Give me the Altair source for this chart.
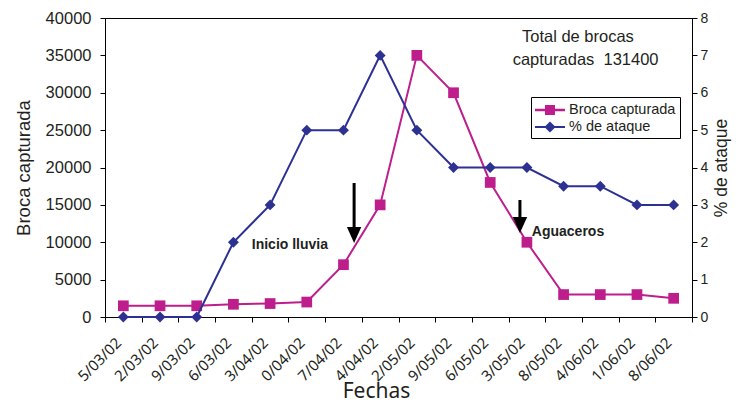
import altair as alt
import pandas as pd

# ---------------- data ----------------
fechas = ['5/03/02', '2/03/02', '9/03/02', '6/03/02', '3/04/02', '0/04/02', '7/04/02', '4/04/02',
          '2/05/02', '9/05/02', '6/05/02', '3/05/02', '8/05/02', '4/06/02', '1/06/02', '8/06/02']
broca = [1500, 1500, 1500, 1700, 1800, 2000, 7000, 15000, 35000, 30000, 18000, 10000, 3000, 3000, 3000, 2500]
ataque = [0, 0, 0, 2, 3, 5, 5, 7, 5, 4, 4, 4, 3.5, 3.5, 3, 3]
series = ['Broca capturada', '% de ataque']

total_lines = ['Total de brocas', 'capturadas\u00a0 131400']
total_x = [12.39, 12.6]
total_y = [36790, 33710]

notes = ['Inicio lluvia', 'Aguaceros']
notes_x = [4.54, 12.12]
notes_y = [9100, 10840]

arrow_x = [6.29, 10.81]
arrow_top = [17930, 15650]
arrow_head = [10970, 12310]

PINK = '#BD1E8C'
BLUE = '#2C3192'
TXT = '#231F20'

# ---------------- tables ----------------
idx = list(range(len(fechas)))
df = pd.DataFrame({'idx': idx, 'fecha': fechas, 'yl': broca, 'yr': ataque})
df_total = pd.DataFrame({'idx': total_x, 'yl': total_y, 'txt': total_lines})
df_notes = pd.DataFrame({'idx': notes_x, 'yl': notes_y, 'txt': notes})
df_arrows = pd.DataFrame({'idx': arrow_x, 'yl': arrow_top, 'yl2': arrow_head})
df_heads = pd.DataFrame({'idx': arrow_x, 'yl': arrow_head})
df_leg = pd.DataFrame({'serie': series})

tick_vals = [i * 0.5 - 0.5 for i in range(2 * len(fechas) + 1)]
label_arr = '[' + ','.join("'%s'" % f for f in fechas) + ']'
label_expr = "datum.value % 1 === 0 ? " + label_arr + "[datum.value] : ''"

X = alt.X('idx:Q',
          scale=alt.Scale(domain=[-0.5, len(fechas) - 0.5], nice=False, zero=False),
          axis=alt.Axis(values=tick_vals, labelExpr=label_expr, labelOverlap=False,
                        tickOpacity={'condition': {'test': 'datum.value % 1 === 0', 'value': 0}, 'value': 1},
                        labelAngle=-45, labelAlign='right', labelBaseline='middle',
                        labelFont='Noto Sans', labelFontSize=15, labelPadding=18, labelOffset=-5,
                        tickSize=5, grid=False,
                        title='Fechas', titleFont='Noto Sans', titleFontSize=21,
                        titleX=271, titleY=80, titleAlign='center', titleBaseline='alphabetic'))

YL = alt.Y('yl:Q', scale=alt.Scale(domain=[0, 40000], nice=False),
           axis=alt.Axis(values=list(range(0, 40001, 5000)), format='d', orient='left',
                         title='Broca capturada', titleFontSize=18.5, labelFontSize=16.5,
                         labelPadding=9, tickSize=5, grid=False, titlePadding=12))
YR = alt.Y('yr:Q', scale=alt.Scale(domain=[0, 8], nice=False),
           axis=alt.Axis(values=list(range(0, 9)), format='d', orient='right',
                         title='% de ataque', titleFontSize=17.5, titleAngle=270, titleBaseline='top',
                         labelFontSize=14, labelPadding=3, tickSize=5, grid=False, titlePadding=5))

base = alt.Chart(df)
pink_line = base.mark_line(color=PINK, strokeWidth=2).encode(x=X, y=YL)
pink_pts = base.mark_point(shape='square', filled=True, size=115, color=PINK, opacity=1).encode(x=X, y=YL)

arrows = alt.Chart(df_arrows).mark_rule(color='black', strokeWidth=3).encode(x=X, y=YL, y2='yl2:Q')
heads = alt.Chart(df_heads).mark_point(shape='M-0.9,-1L0.9,-1L0,1Z', filled=True, size=256,
                                       color='black', opacity=1).encode(x=X, y=YL)
note_txt = alt.Chart(df_notes).mark_text(fontSize=14, fontWeight='bold', color=TXT, align='center',
                                         baseline='alphabetic').encode(x=X, y=YL, text='txt:N')
total_txt = alt.Chart(df_total).mark_text(fontSize=16.5, color=TXT,
                                          align='center', baseline='alphabetic').encode(x=X, y=YL, text='txt:N')

left = alt.layer(pink_line, pink_pts, arrows, heads, note_txt, total_txt)

blue_line = base.mark_line(color=BLUE, strokeWidth=2).encode(x=X, y=YR)
blue_pts = base.mark_point(shape='diamond', filled=True, size=120, color=BLUE, opacity=1).encode(x=X, y=YR)
right = alt.layer(blue_line, blue_pts)

# legend symbols: a line segment with the series marker in its middle (1 unit = 9 px)
pink_sym = 'M-1,-0.14L2.33,-0.14L2.33,0.14L-1,0.14Z M0.11,-0.56L1.22,-0.56L1.22,0.56L0.11,0.56Z'
blue_sym = 'M-1,-0.12L2.33,-0.12L2.33,0.12L-1,0.12Z M0.665,-0.62L1.285,0L0.665,0.62L0.045,0Z'

legend_layer = alt.Chart(df_leg).transform_filter('false').mark_point(filled=True, opacity=1).encode(
    color=alt.Color('serie:N', scale=alt.Scale(domain=series, range=[PINK, BLUE]),
                    legend=alt.Legend(title=None, orient='none', legendX=426, legendY=79,
                                      strokeColor='black', fillColor='white', padding=4,
                                      symbolSize=324, symbolStrokeWidth=0, symbolOpacity=1,
                                      labelFontSize=14.5, labelColor=TXT, labelOffset=16,
                                      rowPadding=1)),
    shape=alt.Shape('serie:N', scale=alt.Scale(domain=series, range=[pink_sym, blue_sym]))
)

chart = alt.layer(left, right, legend_layer).resolve_scale(y='independent').properties(
    width=587, height=299,
    autosize=alt.AutoSizeParams(type='none'),
    padding={'left': 97, 'top': 10, 'right': 43, 'bottom': 86}
).configure(font='Liberation Sans').configure_view(stroke='black', strokeWidth=1).configure_axis(
    domainColor='black', tickColor='black', labelColor=TXT, titleColor=TXT,
    titleFontWeight='normal'
)

chart.save('out.html', embed_options={'renderer': 'svg', 'actions': False})
